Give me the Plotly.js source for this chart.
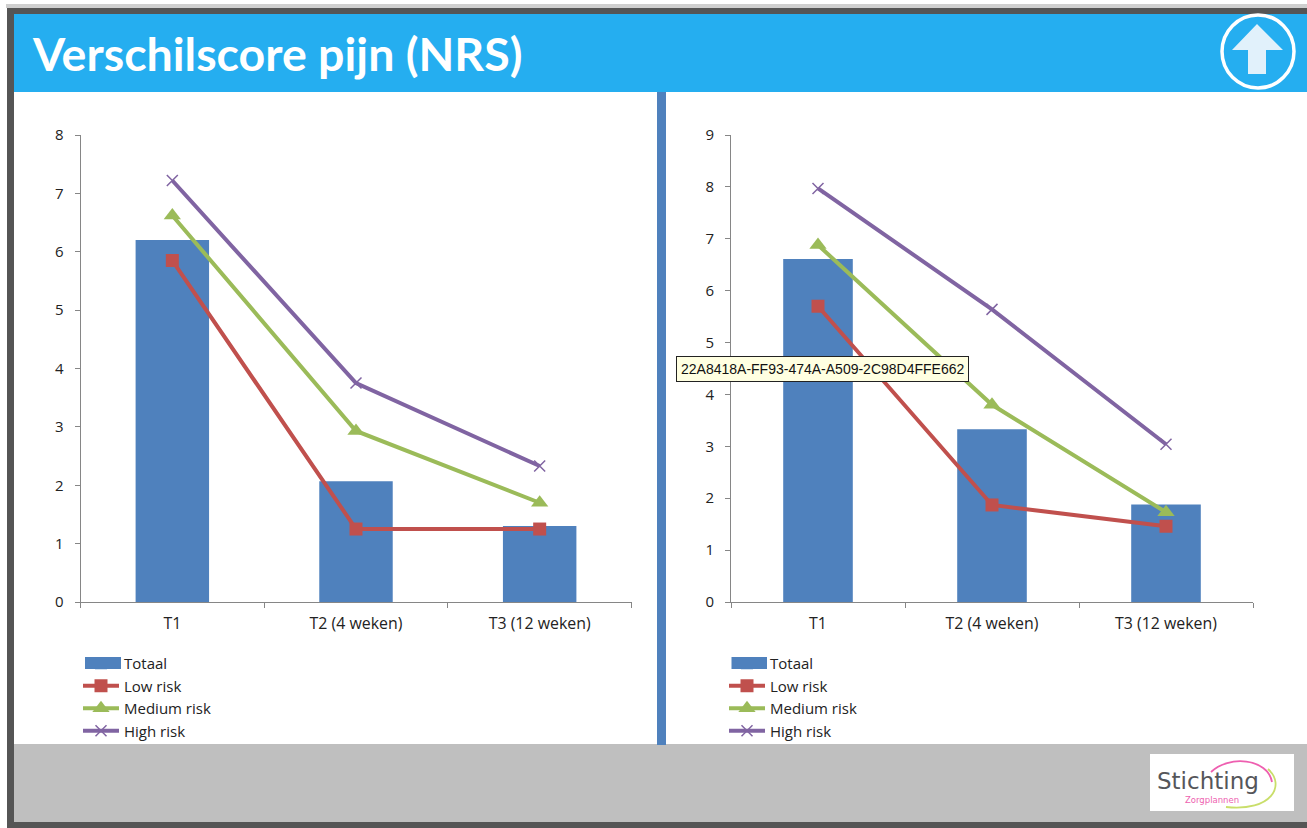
<!DOCTYPE html>
<html><head><meta charset="utf-8">
<script src="https://cdn.plot.ly/plotly-3.0.1.min.js"></script>
<style>html,body{margin:0;padding:0;background:#fff}#chart{width:1307px;height:828px}</style>
</head><body><div id="chart"></div>
<script>
const categories = ['T1', 'T2 (4 weken)', 'T3 (12 weken)'];
const seriesNames = ['Totaal', 'Low risk', 'Medium risk', 'High risk'];
const leftTotaal = [6.2, 2.07, 1.3];
const leftLow = [5.85, 1.25, 1.25];
const leftMedium = [6.62, 2.93, 1.7];
const leftHigh = [7.22, 3.75, 2.33];
const rightTotaal = [6.61, 3.33, 1.88];
const rightLow = [5.7, 1.87, 1.46];
const rightMedium = [6.88, 3.8, 1.73];
const rightHigh = [7.97, 5.64, 3.04];
const titleText = 'Verschilscore pijn (NRS)';
const tooltipText = '22A8418A-FF93-474A-A509-2C98D4FFE662';

const W = 1307, H = 828;
const X = p => p / W, Y = p => 1 - p / H;
const titleFont = 'Lato, "Open Sans", sans-serif';
const font = '"Open Sans", Lato, sans-serif';
const BLUE = '#4F81BD', RED = '#C0504D', GREEN = '#9BBB59', PURPLE = '#8064A2';

function traces(tot, low, med, high, xa, ya, lg) {
  const base = {x: categories, xaxis: xa, yaxis: ya, legend: lg, showlegend: true, hoverinfo: 'skip', cliponaxis: false};
  const line = (name, y, color, marker) => Object.assign({}, base, {
    type: 'scatter', mode: 'lines+markers', name, y,
    line: {color, width: 4}, marker
  });
  return [
    Object.assign({}, base, {type: 'bar', name: seriesNames[0], y: tot, marker: {color: BLUE}, width: 0.4}),
    line(seriesNames[1], low, RED, {symbol: 'square', size: 13, color: RED}),
    line(seriesNames[2], med, GREEN, {symbol: 'triangle-up', size: 15, color: GREEN}),
    line(seriesNames[3], high, PURPLE, {symbol: 'x-thin-open', size: 11, color: PURPLE, line: {color: PURPLE, width: 1.5}})
  ];
}
const data = [
  ...traces(leftTotaal, leftLow, leftMedium, leftHigh, 'x', 'y', 'legend'),
  ...traces(rightTotaal, rightLow, rightMedium, rightHigh, 'x2', 'y2', 'legend2')
];

const rect = (x0, y0, x1, y1, color, layer) => ({type: 'rect', xref: 'paper', yref: 'paper', x0: X(x0), x1: X(x1), y0: Y(y0), y1: Y(y1), fillcolor: color, line: {width: 0}, layer: layer || 'below'});
const poly = pts => 'M' + pts.map(p => X(p[0]) + ',' + Y(p[1])).join('L') + 'Z';
const curve = (a, b, c, d) => `M${X(a[0])},${Y(a[1])}C${X(b[0])},${Y(b[1])} ${X(c[0])},${Y(c[1])} ${X(d[0])},${Y(d[1])}`;

const shapes = [
  rect(6, 4, W, 8, '#CFCFCF'),
  rect(7, 8, W, 14, '#555555'),
  rect(7, 8, 14, 828, '#555555'),
  rect(7, 822, W, 828, '#555555'),
  rect(14, 14, W, 92, '#25AEF0'),
  rect(14, 744, W, 822, '#BFBFBF'),
  rect(657, 92, 666, 745, BLUE),
  {type: 'circle', xref: 'paper', yref: 'paper', x0: X(1222), x1: X(1294), y0: Y(15), y1: Y(88), line: {color: '#FFFFFF', width: 3.5}, fillcolor: 'rgba(0,0,0,0)', layer: 'below'},
  {type: 'path', xref: 'paper', yref: 'paper', layer: 'below', fillcolor: '#E1F1FB', line: {width: 0},
   path: poly([[1257, 24], [1283, 50], [1266, 50], [1266, 74], [1248, 74], [1248, 50], [1232, 50]])},
  rect(1150, 754, 1294, 811, '#FFFFFF'),
  {type: 'path', xref: 'paper', yref: 'paper', layer: 'below', line: {color: '#EE5FB0', width: 1.8},
   path: curve([1211, 772], [1228, 755], [1268, 758], [1272, 782])},
  {type: 'path', xref: 'paper', yref: 'paper', layer: 'below', line: {color: '#C9DE6A', width: 1.8},
   path: curve([1268, 769], [1286, 785], [1272, 812], [1226, 807])},
  // wide legend swatches for the bar series
  rect(85, 657, 121, 669, BLUE, 'above'),
  rect(731.5, 657, 767, 669, BLUE, 'above')
];

const ann = (text, x, y, size, color, extra) => Object.assign({
  text, xref: 'paper', yref: 'paper', x: X(x), y: Y(y), xanchor: 'left', yanchor: 'middle', showarrow: false,
  font: {family: titleFont, size, color}
}, extra || {});
const annotations = [
  ann('<b>' + titleText + '</b>', 31, 53, 46.5, '#FFFFFF', {borderpad: 0}),
  ann(tooltipText, 675.5, 368.5, 14, '#111111', {
    font: {family: '"Liberation Sans", sans-serif', size: 14, color: '#111111'},
    bgcolor: '#FFFFE1', bordercolor: '#222222', borderwidth: 1, borderpad: 4
  }),
  ann('Stichting', 1155, 780.5, 23, '#55565A', {font: {family: '"DejaVu Sans", sans-serif', size: 23, color: '#55565A'}}),
  ann('Zorgplannen', 1183, 799.5, 8, '#EE5FB0', {font: {family: '"DejaVu Sans", sans-serif', size: 8.5, color: '#EE5FB0'}})
];

const xAxis = (x0, x1, anchor) => ({
  domain: [X(x0), X(x1)], anchor, type: 'category', categoryorder: 'array', categoryarray: categories,
  tickson: 'boundaries', ticks: 'outside', ticklen: 5, tickcolor: '#868686', tickwidth: 1, ticklabelstandoff: 7,
  showline: true, linecolor: '#868686', linewidth: 1, showgrid: false, zeroline: false, fixedrange: true,
  tickfont: {family: font, size: 15.9, color: '#222222'}
});
const yAxis = (max, anchor) => ({
  domain: [Y(602), Y(135)], anchor, range: [0, max], dtick: 1, ticks: 'outside', ticklen: 5, tickcolor: '#868686', tickwidth: 1, ticklabelstandoff: 8,
  showline: true, linecolor: '#868686', linewidth: 1, showgrid: false, zeroline: false, fixedrange: true,
  tickfont: {family: font, size: 15, color: '#222222'}
});
const legend = x => ({
  x: X(x), y: Y(647), xanchor: 'left', yanchor: 'top', bgcolor: 'rgba(0,0,0,0)', borderwidth: 0,
  itemwidth: 36, traceorder: 'normal', font: {family: font, size: 15, color: '#222222'},
  itemclick: false, itemdoubleclick: false
});

const layout = {
  width: W, height: H, margin: {l: 0, r: 0, t: 0, b: 0}, paper_bgcolor: '#FFFFFF', plot_bgcolor: 'rgba(0,0,0,0)',
  barmode: 'overlay', showlegend: true,
  xaxis: xAxis(80.5, 631.5, 'y'), yaxis: yAxis(8, 'x'),
  xaxis2: xAxis(731, 1253, 'y2'), yaxis2: yAxis(9, 'x2'),
  legend: legend(78), legend2: legend(724),
  shapes, annotations
};
Plotly.newPlot('chart', data, layout, {displayModeBar: false, responsive: false});
</script></body></html>
